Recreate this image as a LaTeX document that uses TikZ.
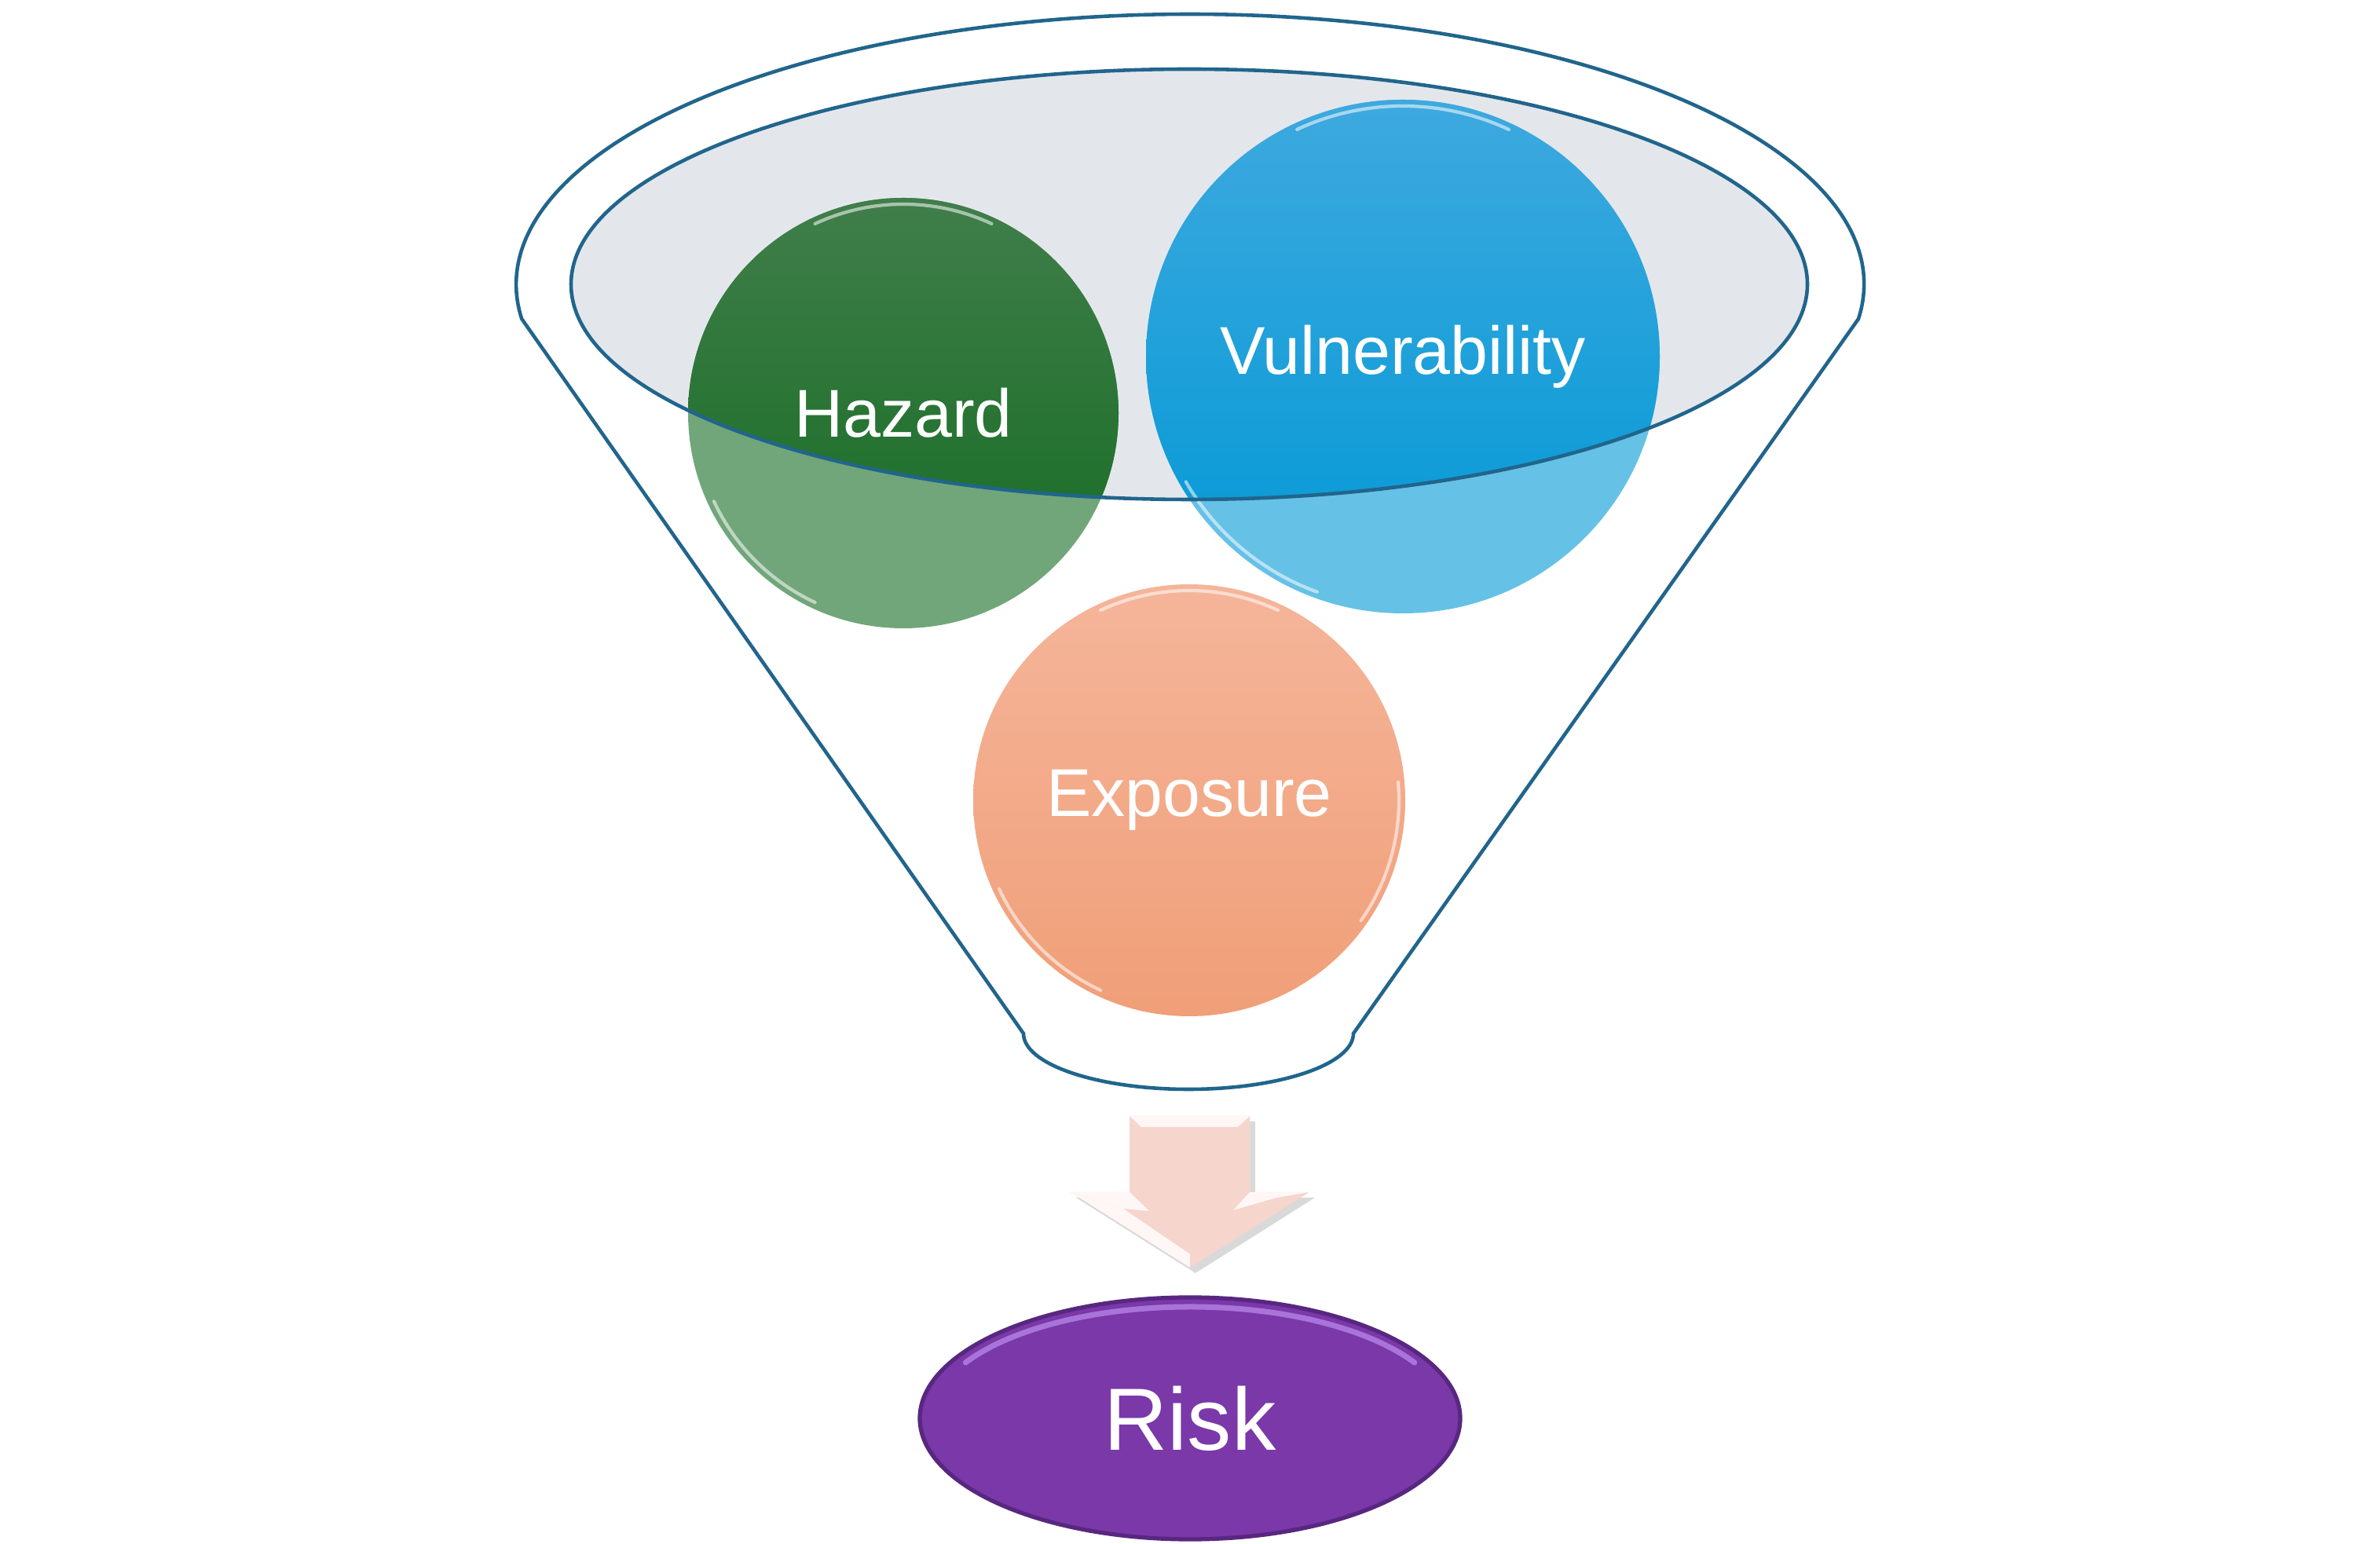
\documentclass[tikz,border=0pt]{standalone}
\usepackage{fontspec}
\setmainfont{Liberation Sans}
\usetikzlibrary{positioning,shapes.geometric,shadows}
\definecolor{funnel}{HTML}{21658C}
\definecolor{lidfill}{HTML}{E3E7EC}
\definecolor{hzd}{HTML}{136B21}
\definecolor{hzdtop}{HTML}{407E4A}
\definecolor{vul}{HTML}{0098D5}
\definecolor{vultop}{HTML}{3EA9DF}
\definecolor{expo}{HTML}{F09F78}
\definecolor{expotop}{HTML}{F5B59A}
\definecolor{arrowpink}{HTML}{F6D5CD}
\definecolor{arrowlite}{HTML}{FFF7F5}
\definecolor{riskpurple}{HTML}{7A38A8}
\definecolor{riskdark}{HTML}{582780}
\definecolor{riskshine}{HTML}{B583E6}
\tikzset{
  ball/.style={circle,inner sep=0pt,text=white,font=\fontsize{24.5}{29}\selectfont},
  shine/.style={white,line width=1.2pt,opacity=.55,line cap=round},
  bevel/.style={arrowlite},
  cone/.style={draw=funnel,line width=1.3pt}}

\begin{document}
\begin{tikzpicture}
\useasboundingbox (0,0) rectangle (30.30,19.65);
\coordinate (h) at (11.50,14.39);
\coordinate (v) at (17.86,15.11);
\coordinate (e) at (15.14,9.46);
% lid and body of the funnel
\node[ellipse,fill=lidfill,minimum width=15.74cm,minimum height=5.48cm,inner sep=0pt] (lid) at (15.14,16.03) {};
\draw[cone] (23.66,15.59) arc[start angle=-7.35,end angle=187.35,x radius=8.58,y radius=3.44]
  -- (13.03,6.49) arc[start angle=180,end angle=360,x radius=2.1,y radius=0.71] -- cycle;
% balls, darker where they sit in the lid
\fill[hzd,fill opacity=.6] (h) circle (2.74);
\fill[vul,fill opacity=.6] (v) circle (3.27);
\begin{scope}
\clip (lid.center) ellipse [x radius=7.87,y radius=2.74];
\shade[top color=hzdtop,bottom color=hzd] (h) circle (2.74);
\shade[top color=vultop,bottom color=vul] (v) circle (3.27);
\end{scope}
\shade[top color=expotop,bottom color=expo] (e) circle (2.75);
\draw[shine] (h) ++(65:2.66) arc[start angle=65,end angle=115,radius=2.66];
\draw[shine] (h) ++(205:2.66) arc[start angle=205,end angle=245,radius=2.66];
\draw[shine] (v) ++(65:3.19) arc[start angle=65,end angle=115,radius=3.19];
\draw[shine] (v) ++(210:3.19) arc[start angle=210,end angle=250,radius=3.19];
\draw[shine] (e) ++(65:2.67) arc[start angle=65,end angle=115,radius=2.67];
\draw[shine] (e) ++(205:2.67) arc[start angle=205,end angle=245,radius=2.67];
\draw[shine] (e) ++(-35:2.67) arc[start angle=-35,end angle=5,radius=2.67];
\draw[cone] (lid.center) ellipse [x radius=7.87,y radius=2.74];
\node[ball,minimum size=5.48cm] (haz) at (h) {Hazard};
\node[ball,minimum size=6.54cm] (vuln) at (v) {Vulnerability};
\node[ball,minimum size=5.50cm] (expos) at (e) {Exposure};
% block arrow down to risk
\fill[arrowpink,drop shadow={opacity=.3,shadow xshift=.07,shadow yshift=-.07}]
  (14.38,5.44) -- (15.91,5.44) -- (15.91,4.47) -- (16.67,4.47) -- (15.15,3.51)
  -- (13.63,4.47) -- (14.38,4.47) -- cycle;
\fill[bevel] (14.38,5.44) -- (15.91,5.44) -- (15.76,5.30) -- (14.53,5.30) -- cycle;
\fill[bevel] (13.63,4.47) -- (15.15,3.51) -- (15.15,3.68) -- (14.30,4.26) -- cycle;
\fill[bevel] (13.63,4.47) -- (14.38,4.47) -- (14.63,4.23) -- (14.30,4.26) -- cycle;
\fill[bevel] (15.91,4.47) -- (16.67,4.47) -- (16.25,4.40) -- (15.70,4.24) -- cycle;
\node[ellipse,fill=riskpurple,draw=riskdark,line width=1.5pt,minimum width=6.88cm,minimum height=3.08cm,
  inner sep=0pt,text=white,font=\fontsize{32}{38}\selectfont] (risk) at (15.15,1.59) {Risk};
\draw[riskshine,line width=2pt,opacity=.8,line cap=round] (risk.center) ++(150:3.30 and 1.42)
  arc[start angle=150,end angle=30,x radius=3.30,y radius=1.42];
\end{tikzpicture}
\end{document}
